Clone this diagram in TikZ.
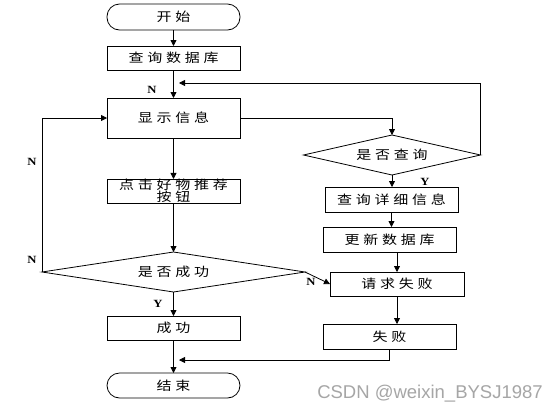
\documentclass[tikz,border=0pt]{standalone}
\usepackage{fontspec}
\usetikzlibrary{arrows.meta,shapes.geometric,calc}
\newfontfamily\zh[LetterSpace=30,FakeStretch=1.2]{Noto Sans CJK SC}
\newfontfamily\lab[FakeStretch=1.15]{Liberation Serif}
\newfontfamily\wm{Liberation Sans}
\begin{document}
\begin{tikzpicture}[x=1pt,y=-1pt,
  every node/.style={inner sep=0pt,outer sep=0pt},
  procbox/.style={draw,line width=0.8pt,minimum width=133pt,minimum height=24pt,font=\zh\fontsize{12.5}{12.5}\selectfont,align=center},
  termbox/.style={procbox,rounded corners=12.5pt,minimum height=26pt},
  decbox/.style={draw,line width=0.8pt,diamond,aspect=6,font=\zh\fontsize{12.5}{13}\selectfont},
  conn/.style={line width=0.8pt,-{Triangle[length=6pt,width=6pt]}},
  plain/.style={line width=0.8pt},
  yn/.style={font=\lab\bfseries\fontsize{11}{11}\selectfont}]
\useasboundingbox (0,0) rectangle (557,413);
\fill[white] (0,0) rectangle (557,413);
% left column
\node[termbox] (start) at (173.5,17) {开始};
\node[procbox] (db) at (173.5,58) {查询数据库};
\node[procbox,minimum height=40pt] (show) at (173.5,118) {显示信息};
\node[procbox] (click) at (173.5,191) {点击好物推荐\\按钮};
\node[decbox,minimum width=263pt,minimum height=40pt] (d2) at (173.5,272) {是否成功};
\node[procbox] (ok) at (173.5,328) {成功};
\node[termbox,minimum height=25pt] (end) at (173.5,385.5) {结束};
% right column
\node[decbox,minimum width=177pt,minimum height=40pt] (d1) at (392,155) {是否查询};
\node[procbox,minimum height=25pt] (detail) at (391.5,199.5) {查询详细信息};
\node[procbox,minimum height=25pt] (upd) at (389.5,239.5) {更新数据库};
\node[procbox,minimum width=134pt] (req) at (397,284) {请求失败};
\node[procbox,minimum height=25pt] (fail) at (389.5,336.5) {失败};
\coordinate (m1) at (179,360);
\coordinate (m2) at (179,83);
% connectors
\draw[conn] (start) -- (db);
\draw[conn] (db) -- (show);
\draw[conn] (show) -- (click);
\draw[conn] (click) -- (d2);
\draw[conn] (d2) -- (ok);
\draw[conn] (ok) -- (end);
\draw[conn] (show.east) -| (d1.north);
\draw[conn] (d1.south) -- (d1.south |- detail.north);
\draw[conn] (detail.south) -- (detail.south |- upd.north);
\draw[conn] (req.north |- upd.south) -- (req.north);
\draw[conn] (req.south) -- (req.south |- fail.north);
\draw[conn] (fail.south) |- (m1);
\draw[conn] (d1.east) |- (m2);
\draw[conn] (d2.west) |- (show.west);
\draw[conn] (d2.east) -- (req.west);
% labels
\node[yn] (n1) at (152,90) {N};
\node[yn] (n2) at (32,162) {N};
\node[yn] (n3) at (32,260) {N};
\node[yn] (y1) at (158,304) {Y};
\node[yn] (y2) at (425,182) {Y};
\node[yn,fill=white,inner sep=0.5pt] (n4) at (311,282) {N};
\node[font=\wm\fontsize{18.5}{18.5}\selectfont,text=black!35] (wm) at (430,394) {CSDN @weixin\_BYSJ1987};
\end{tikzpicture}
\end{document}
